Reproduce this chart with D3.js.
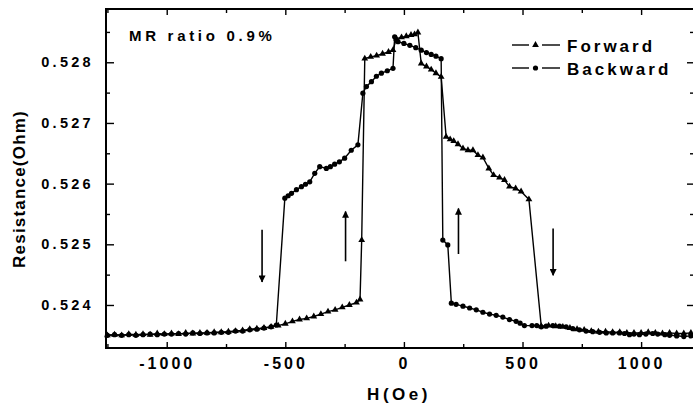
<!DOCTYPE html>
<html>
<head>
<meta charset="utf-8">
<script src="https://cdn.jsdelivr.net/npm/d3@7"></script>
<style>
  html, body { margin: 0; padding: 0; background: #fff; }
  svg { display: block; font-family: "Liberation Sans", Arial, sans-serif; }
  .tick text { fill: #000; font-weight: bold; }
</style>
</head>
<body>
<div id="wrapper"></div>
<script>
'use strict';

//#region DATASET
// forward sweep (triangles), field in Oe and resistance in Ohm
const forwardH = [
  -1250, -1220, -1190, -1160, -1130, -1100, -1070, -1040, -1010, -980, -950, -920, -890, -860,
  -830, -800, -770, -740, -710, -680, -650, -620, -590, -560, -530, -500, -470, -440, -410,
  -380, -350, -320, -290, -260, -230, -200, -185, -178, -165, -140, -115, -90, -65, -46, -32,
  -10, 10, 30, 45, 59, 73, 95, 115, 135, 157, 178, 195, 210, 228, 249, 270, 291, 312, 333,
  358, 378, 403, 424, 445, 471, 494, 527, 579, 610, 640, 670, 700, 730, 760, 790, 820, 850,
  880, 910, 940, 970, 1000, 1030, 1060, 1090, 1120, 1150, 1180, 1210
];
const forwardR = [
  0.52350, 0.52351, 0.52350, 0.52352, 0.52351, 0.52352, 0.52351, 0.52353, 0.52352, 0.52353,
  0.52352, 0.52354, 0.52353, 0.52354, 0.52354, 0.52355, 0.52355, 0.52356, 0.52357, 0.52358,
  0.52360, 0.52361, 0.52362, 0.52364, 0.52366, 0.52369, 0.52373, 0.52376, 0.52378, 0.52381,
  0.52385, 0.52389, 0.52392, 0.52396, 0.52400, 0.52404, 0.52409, 0.52507, 0.52806, 0.52809,
  0.52811, 0.52814, 0.52817, 0.52820, 0.52839, 0.52841, 0.52843, 0.52845, 0.52846, 0.52849,
  0.52798, 0.52793, 0.52788, 0.52782, 0.52776, 0.52677, 0.52673, 0.52670, 0.52665, 0.52658,
  0.52655, 0.52655, 0.52647, 0.52643, 0.52625, 0.52614, 0.52610, 0.52606, 0.52595, 0.52592,
  0.52587, 0.52574, 0.52365, 0.52366, 0.52365, 0.52364, 0.52362, 0.52360, 0.52359, 0.52357,
  0.52356, 0.52356, 0.52355, 0.52355, 0.52354, 0.52354, 0.52354, 0.52355, 0.52354, 0.52353,
  0.52354, 0.52353, 0.52353, 0.52354
];

// backward sweep (circles)
const backwardH = [
  1210, 1180, 1150, 1120, 1100, 1070, 1049, 1020, 993, 970, 951, 930, 909, 880, 853, 825,
  796, 768, 740, 712, 684, 656, 628, 600, 579, 560, 540, 508, 490, 473, 445, 417, 389, 361,
  333, 305, 277, 249, 220, 200, 185, 164, 157, 135, 115, 95, 73, 50, 25, 0, -25, -39, -46,
  -70, -95, -116, -137, -158, -173, -194, -222, -250, -272, -292, -310, -327, -355, -376,
  -397, -415, -432, -453, -474, -488, -502, -538, -560, -590, -620, -650, -680, -710, -740,
  -770, -800, -830, -860, -890, -920, -950, -980, -1010, -1040, -1070, -1100, -1130, -1160,
  -1190, -1220, -1250
];
const backwardR = [
  0.52349, 0.52348, 0.52349, 0.52350, 0.52351, 0.52352, 0.52353, 0.52352, 0.52351, 0.52352,
  0.52351, 0.52353, 0.52354, 0.52354, 0.52354, 0.52355, 0.52356, 0.52357, 0.52359, 0.52361,
  0.52364, 0.52365, 0.52366, 0.52365, 0.52364, 0.52366, 0.52366, 0.52366, 0.52370, 0.52373,
  0.52376, 0.52380, 0.52383, 0.52385, 0.52388, 0.52392, 0.52395, 0.52398, 0.52401, 0.52403,
  0.52499, 0.52507, 0.52806, 0.52810, 0.52813, 0.52816, 0.52820, 0.52824, 0.52828, 0.52831,
  0.52834, 0.52842, 0.52790, 0.52786, 0.52782, 0.52777, 0.52768, 0.52760, 0.52749, 0.52664,
  0.52655, 0.52642, 0.52636, 0.52632, 0.52628, 0.52625, 0.52628, 0.52617, 0.52603, 0.52599,
  0.52595, 0.52590, 0.52584, 0.52580, 0.52576, 0.52367, 0.52364, 0.52362, 0.52360, 0.52359,
  0.52357, 0.52357, 0.52355, 0.52355, 0.52354, 0.52354, 0.52353, 0.52354, 0.52352, 0.52353,
  0.52352, 0.52352, 0.52351, 0.52352, 0.52351, 0.52350, 0.52351, 0.52350, 0.52351, 0.52350
];

const xTicks = [-1000, -500, 0, 500, 1000];
const xMinorTicks = [-1250, -750, -250, 250, 750];
const yTicks = [0.524, 0.525, 0.526, 0.527, 0.528];
const yMinorTicks = [0.5235, 0.5245, 0.5255, 0.5265, 0.5275, 0.5285];

const seriesNames = ['Forward', 'Backward'];

// sweep direction arrows: field, start resistance, tip resistance
const arrowH = [-598, -246, 230, 629];
const arrowFrom = [0.52524, 0.52472, 0.52484, 0.52526];
const arrowTo = [0.52438, 0.52554, 0.52559, 0.52449];
//#endregion DATASET

//#region CHART DIMENSIONS
const dimensions = {
  width: 693,
  height: 411,
  margin: { top: 9, right: -1, bottom: 63, left: 106 }
};
dimensions.plotWidth = dimensions.width - dimensions.margin.left - dimensions.margin.right;
dimensions.plotHeight = dimensions.height - dimensions.margin.top - dimensions.margin.bottom;
//#endregion CHART DIMENSIONS

//#region DRAW CANVAS
const wrapper = d3.select('#wrapper').append('svg')
  .attr('width', dimensions.width)
  .attr('height', dimensions.height);

const plot = wrapper.append('g')
  .attr('transform', `translate(${dimensions.margin.left}, ${dimensions.margin.top})`);
//#endregion DRAW CANVAS

//#region CREATE SCALES
const xScale = d3.scaleLinear()
  .domain([-1256, 1223])
  .range([0, dimensions.plotWidth]);

const yScale = d3.scaleLinear()
  .domain([0.523291, 0.528878])
  .range([dimensions.plotHeight, 0]);
//#endregion CREATE SCALES

//#region DRAW PERIPHERALS
const yAxis = plot.append('g')
  .call(d3.axisLeft(yScale).tickValues(yTicks).tickFormat(d3.format('.3f'))
    .tickSize(-8).tickPadding(12));
yAxis.selectAll('text').style('font-size', '14.5px').style('letter-spacing', '3.3px');

plot.append('g')
  .call(d3.axisLeft(yScale).tickValues(yMinorTicks).tickFormat('').tickSize(-4));

const rightAxis = plot.append('g')
  .attr('transform', `translate(${dimensions.plotWidth}, 0)`);
rightAxis.call(d3.axisRight(yScale).tickValues(yTicks).tickFormat('').tickSize(-7));
rightAxis.append('g')
  .call(d3.axisRight(yScale).tickValues(yMinorTicks).tickFormat('').tickSize(-4));

const xAxis = plot.append('g')
  .attr('transform', `translate(0, ${dimensions.plotHeight})`)
  .call(d3.axisBottom(xScale).tickValues(xTicks).tickFormat(d => String(d))
    .tickSize(-6).tickPadding(10));
xAxis.selectAll('text').style('font-size', '16px').style('letter-spacing', '3px');

plot.append('g')
  .attr('transform', `translate(0, ${dimensions.plotHeight})`)
  .call(d3.axisBottom(xScale).tickValues(xMinorTicks).tickFormat('').tickSize(-4));

const topAxis = plot.append('g');
topAxis.call(d3.axisTop(xScale).tickValues(xTicks).tickFormat('').tickSize(-6));
topAxis.append('g')
  .call(d3.axisTop(xScale).tickValues(xMinorTicks).tickFormat('').tickSize(-4));

plot.selectAll('.domain').remove();
plot.selectAll('.tick line').attr('stroke', '#000').attr('stroke-width', 1.4);

plot.append('rect')
  .attr('width', dimensions.plotWidth)
  .attr('height', dimensions.plotHeight)
  .attr('fill', 'none')
  .attr('stroke', '#000')
  .attr('stroke-width', 2);

wrapper.append('text')
  .attr('x', dimensions.margin.left + dimensions.plotWidth / 2 - 1)
  .attr('y', 400)
  .attr('text-anchor', 'middle')
  .style('font-size', '17px')
  .style('font-weight', 'bold')
  .style('letter-spacing', '3.5px')
  .text('H(Oe)');

wrapper.append('text')
  .attr('transform', 'translate(25, 189) rotate(-90)')
  .attr('text-anchor', 'middle')
  .style('font-size', '17px')
  .style('letter-spacing', '1.2px')
  .style('font-weight', 'bold')
  .text('Resistance(Ohm)');

plot.append('text')
  .attr('x', 23)
  .attr('y', 32)
  .style('font-size', '15px')
  .style('font-weight', 'bold')
  .style('letter-spacing', '3.7px')
  .text('MR ratio 0.9%');
//#endregion DRAW PERIPHERALS

//#region DRAW DATA
const forward = forwardH.map((h, i) => ({ h, r: forwardR[i] }));
const backward = backwardH.map((h, i) => ({ h, r: backwardR[i] }));

const lineGenerator = d3.line()
  .x(d => xScale(d.h))
  .y(d => yScale(d.r));

const triangle = d3.symbol().type(d3.symbolTriangle).size(20);

[forward, backward].forEach((series, i) => {
  plot.append('path')
    .datum(series)
    .attr('d', lineGenerator)
    .attr('fill', 'none')
    .attr('stroke', '#000')
    .attr('stroke-width', 1.4);

  if (i === 0) {
    plot.append('g').selectAll('path').data(series).join('path')
      .attr('d', triangle)
      .attr('transform', d => `translate(${xScale(d.h)}, ${yScale(d.r)})`)
      .attr('fill', '#000');
  } else {
    plot.append('g').selectAll('circle').data(series).join('circle')
      .attr('cx', d => xScale(d.h))
      .attr('cy', d => yScale(d.r))
      .attr('r', 2.6)
      .attr('fill', '#000');
  }
});

// arrows
const defs = wrapper.append('defs');
defs.append('marker')
  .attr('id', 'head')
  .attr('viewBox', '0 0 10 10')
  .attr('refX', 9)
  .attr('refY', 5)
  .attr('markerUnits', 'userSpaceOnUse')
  .attr('markerWidth', 9)
  .attr('markerHeight', 7)
  .attr('orient', 'auto')
  .append('path')
  .attr('d', 'M0,0 L10,5 L0,10 Z')
  .attr('fill', '#000');

plot.append('g').selectAll('line').data(arrowH).join('line')
  .attr('x1', d => xScale(d))
  .attr('x2', d => xScale(d))
  .attr('y1', (d, i) => yScale(arrowFrom[i]))
  .attr('y2', (d, i) => yScale(arrowTo[i]))
  .attr('stroke', '#000')
  .attr('stroke-width', 1.6)
  .attr('marker-end', 'url(#head)');
//#endregion DRAW DATA

//#region LEGEND
const legend = wrapper.append('g')
  .attr('transform', 'translate(512, 45)');

const legendItems = legend.selectAll('g').data(seriesNames).join('g')
  .attr('transform', (d, i) => `translate(0, ${i * 23})`);

legendItems.append('line')
  .attr('x1', 0).attr('x2', 17)
  .attr('stroke', '#000')
  .attr('stroke-width', 1.4);

legendItems.append('line')
  .attr('x1', 30).attr('x2', 48)
  .attr('stroke', '#000')
  .attr('stroke-width', 1.4);

legendItems.filter((d, i) => i === 0).append('path')
  .attr('d', triangle)
  .attr('transform', 'translate(23.5, 0)')
  .attr('fill', '#000');

legendItems.filter((d, i) => i === 1).append('circle')
  .attr('cx', 23.5)
  .attr('r', 2.6)
  .attr('fill', '#000');

legendItems.append('text')
  .attr('x', 55)
  .attr('y', 7)
  .style('font-size', '17px')
  .style('font-weight', 'bold')
  .style('letter-spacing', '3px')
  .text(d => d);
//#endregion LEGEND
</script>
</body>
</html>
